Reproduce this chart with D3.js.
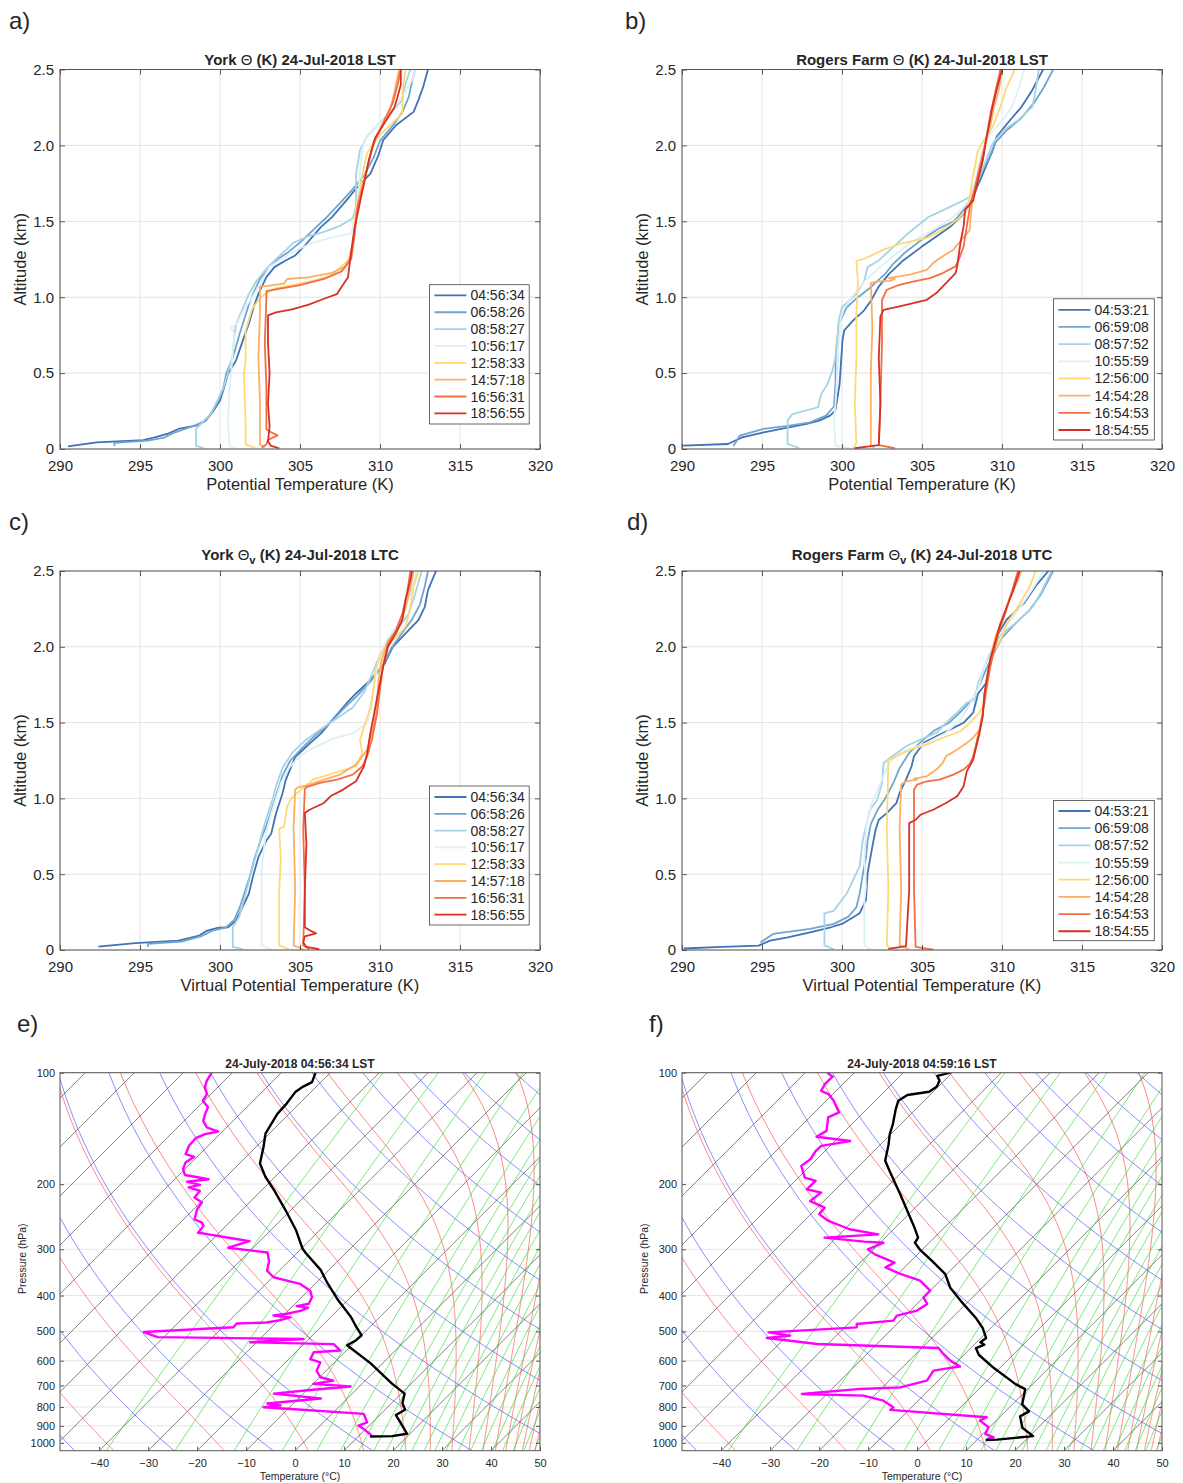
<!DOCTYPE html>
<html><head><meta charset="utf-8"><title>Soundings 24 July 2018</title>
<script src="https://cdn.jsdelivr.net/npm/d3@7/dist/d3.min.js"></script>
<style>
html,body{margin:0;padding:0;background:#fff;}
svg{display:block;}
text{font-family:"Liberation Sans",Arial,Helvetica,sans-serif;fill:#262626;}
</style></head><body>
<svg id="chart" width="1183" height="1483"></svg>
<script>
// ================= DATA =================
const yorkTimes   = ["04:56:34","06:58:26","08:58:27","10:56:17","12:58:33","14:57:18","16:56:31","18:56:55"];
const rogersTimes = ["04:53:21","06:59:08","08:57:52","10:55:59","12:56:00","14:54:28","16:54:53","18:54:55"];
const seriesColors = ["#4072b5","#6fa6d0","#a5d3e6","#dcf0f6","#fed976","#fdae61","#f46d43","#d73027"];
const thetaTicks = [290,295,300,305,310,315,320];
const altTicks = [0,0.5,1.0,1.5,2.0,2.5];
const pressureTicks = [100,200,300,400,500,600,700,800,900,1000];
const tempTicks = [-40,-30,-20,-10,0,10,20,30,40,50];

// skew-T reference line families
const isothermValues = [-150,-140,-130,-120,-110,-100,-90,-80,-70,-60,-50,-40,-30,-20,-10,0,10,20,30,40,50];
const dryAdiabatTheta = [185,205,225,245,265,285,305,325,345,365,385,405,425,445,465,485,505,525,545];
const moistStartT = [-37,-14.5,2.7,14,22.6,27.6,32,35.5,38.4,40.9,43,44.8,46.4,47.8,49,50.2];
const mixingRatios = [0.13,0.5,1.4,3,5,7,9,11,13,15.5,18,21,24,27.5,32,37,42,48,54,61,69,78,88];

// (a) York potential temperature [theta K, altitude km]
const yorkTheta = [
 [[290.5,0.018],[292.3,0.044],[295.2,0.059],[295.8,0.073],[296.7,0.099],[297.4,0.132],[298.5,0.154],[299.1,0.187],[299.6,0.253],[300.0,0.319],[300.2,0.385],[300.5,0.495],[301.0,0.583],[301.5,0.737],[301.8,0.825],[302.1,0.934],[302.4,1.022],[302.9,1.132],[303.4,1.198],[304.1,1.242],[304.7,1.275],[305.4,1.352],[306.3,1.462],[307.0,1.528],[307.9,1.638],[308.5,1.715],[309.4,1.814],[309.9,1.935],[310.2,2.034],[311.0,2.133],[312.1,2.221],[312.4,2.298],[312.7,2.386],[313.0,2.5]],
 [[293.4,0.02],[293.4,0.04],[295.5,0.055],[296.5,0.075],[297.2,0.11],[298.3,0.15],[299.0,0.18],[299.5,0.24],[299.9,0.32],[300.2,0.40],[300.4,0.50],[300.8,0.60],[301.2,0.75],[301.5,0.85],[301.8,0.95],[302.1,1.03],[302.5,1.12],[303.0,1.19],[303.6,1.25],[304.3,1.30],[305.0,1.36],[305.8,1.44],[306.6,1.52],[307.5,1.62],[308.2,1.70],[309.0,1.80],[309.6,1.92],[310.0,2.03],[310.8,2.13],[311.4,2.22],[311.8,2.32],[312.0,2.42],[312.2,2.5]],
 [[299.0,0.005],[298.5,0.02],[298.5,0.13],[298.7,0.154],[299.4,0.23],[299.8,0.31],[300.2,0.40],[300.5,0.50],[300.8,0.62],[300.9,0.75],[301.0,0.82],[301.4,0.92],[301.8,1.02],[302.3,1.11],[303.0,1.20],[303.8,1.28],[304.6,1.36],[305.5,1.40],[306.5,1.43],[307.5,1.47],[308.3,1.52],[308.5,1.60],[308.5,1.81],[308.75,1.97],[309.2,2.06],[309.9,2.14],[310.8,2.23],[311.4,2.30],[311.6,2.41],[311.9,2.5]],
 [[301.0,0.005],[300.6,0.02],[300.5,0.165],[300.6,0.41],[300.7,0.50],[300.8,0.65],[300.9,0.76],[300.7,0.80],[301.1,0.83],[301.5,0.92],[301.9,0.98],[302.5,1.09],[303.1,1.20],[304.4,1.29],[305.8,1.36],[307.3,1.40],[308.2,1.42],[308.5,1.55],[308.7,1.75],[308.8,1.90],[309.0,2.03],[309.9,2.14],[310.5,2.19],[311.4,2.32],[312.0,2.43],[312.2,2.5]],
 [[302.2,0.007],[301.6,0.03],[301.6,0.165],[301.5,0.495],[301.6,0.583],[301.6,0.78],[301.8,0.85],[302.0,0.92],[302.4,0.98],[302.8,1.02],[303.5,1.06],[305.0,1.09],[306.3,1.12],[307.0,1.15],[308.0,1.24],[308.3,1.35],[308.4,1.42],[308.5,1.59],[308.75,1.70],[308.9,1.81],[309.2,1.95],[309.9,2.06],[310.5,2.12],[311.4,2.21],[311.4,2.34],[311.5,2.43],[311.6,2.5]],
 [[302.8,0.01],[302.5,0.03],[302.5,0.3],[302.4,0.6],[302.5,0.9],[302.5,1.07],[303.0,1.075],[304.0,1.09],[304.2,1.12],[305.5,1.13],[307.0,1.16],[307.8,1.20],[308.2,1.28],[308.4,1.40],[308.5,1.55],[308.8,1.70],[309.2,1.85],[309.5,1.98],[310.0,2.10],[310.6,2.22],[310.9,2.35],[311.2,2.5]],
 [[302.6,0.01],[302.9,0.03],[303.0,0.06],[303.6,0.09],[303.2,0.11],[302.9,0.13],[302.9,0.4],[302.8,0.7],[302.9,1.0],[302.9,1.04],[303.4,1.05],[305.0,1.08],[306.5,1.12],[307.6,1.17],[308.2,1.25],[308.4,1.40],[308.6,1.60],[309.0,1.75],[309.3,1.90],[309.6,2.02],[310.2,2.15],[310.8,2.28],[311.1,2.40],[311.3,2.5]],
 [[303.7,0.005],[303.2,0.02],[303.0,0.05],[303.1,0.15],[303.0,0.3],[303.1,0.5],[303.0,0.7],[303.0,0.88],[303.5,0.90],[304.5,0.92],[305.5,0.95],[306.5,0.99],[307.3,1.02],[307.8,1.10],[308.0,1.13],[308.2,1.30],[308.4,1.45],[308.7,1.60],[309.0,1.75],[309.3,1.90],[309.7,2.05],[310.3,2.15],[310.9,2.25],[311.1,2.32],[311.3,2.40],[311.3,2.5]]
];

// (b) Rogers Farm potential temperature
const rogersTheta = [
 [[290.07,0.022],[292.87,0.033],[293.76,0.077],[295.1,0.11],[296.67,0.143],[297.79,0.165],[298.57,0.187],[299.25,0.22],[299.58,0.253],[299.69,0.319],[299.85,0.429],[299.92,0.539],[300.03,0.715],[300.14,0.781],[300.7,0.847],[301.37,0.912],[301.82,0.978],[302.27,1.066],[302.94,1.154],[303.83,1.242],[304.95,1.33],[305.85,1.396],[306.74,1.462],[307.64,1.55],[308.09,1.638],[308.54,1.748],[308.98,1.858],[309.43,1.968],[309.66,2.056],[310.33,2.144],[311.22,2.254],[311.89,2.364],[312.57,2.5]],
 [[293.2,0.02],[293.4,0.05],[293.6,0.088],[295.1,0.132],[296.7,0.154],[298.0,0.175],[299.0,0.22],[299.5,0.28],[299.6,0.45],[299.6,0.605],[299.8,0.825],[300.3,0.934],[301.0,1.0],[301.8,1.066],[302.7,1.154],[303.2,1.22],[304.0,1.30],[305.0,1.38],[306.0,1.45],[307.0,1.50],[307.8,1.60],[308.1,1.70],[308.6,1.80],[309.2,1.92],[309.6,2.02],[310.3,2.10],[311.2,2.18],[312.0,2.28],[312.6,2.38],[313.2,2.5]],
 [[297.3,0.007],[296.6,0.033],[296.6,0.187],[296.9,0.23],[298.5,0.275],[298.7,0.363],[299.1,0.429],[299.4,0.517],[299.6,0.605],[299.7,0.715],[299.8,0.847],[300.0,0.934],[300.9,1.022],[301.4,1.11],[301.6,1.198],[302.3,1.242],[303.2,1.33],[304.1,1.418],[305.4,1.528],[306.3,1.572],[307.6,1.638],[308.3,1.682],[308.5,1.77],[309.0,1.90],[309.4,2.01],[310.1,2.10],[311.0,2.166],[311.9,2.254],[312.1,2.364],[312.3,2.5]],
 [[300.5,0.005],[299.6,0.02],[299.5,0.19],[299.6,0.3],[299.7,0.5],[299.8,0.7],[299.9,0.85],[300.1,0.92],[300.6,1.0],[301.5,1.115],[302.4,1.2],[303.3,1.28],[304.3,1.36],[305.3,1.42],[306.3,1.48],[307.2,1.55],[307.8,1.62],[308.2,1.72],[308.5,1.85],[308.8,1.98],[309.3,2.08],[310.0,2.16],[310.6,2.25],[311.0,2.36],[311.4,2.5]],
 [[300.7,0.005],[300.9,0.04],[300.8,0.3],[300.9,0.6],[300.9,0.9],[301.0,1.1],[300.9,1.24],[301.5,1.258],[302.6,1.313],[303.8,1.357],[305.3,1.39],[306.3,1.445],[307.2,1.51],[307.8,1.577],[308.0,1.66],[308.1,1.748],[308.3,1.858],[308.5,1.968],[309.0,2.056],[309.4,2.12],[309.9,2.254],[310.3,2.386],[310.8,2.5]],
 [[302.0,0.005],[301.8,0.03],[301.8,0.5],[301.9,0.8],[301.8,1.093],[302.2,1.104],[303.0,1.108],[303.3,1.12],[302.9,1.125],[304.25,1.148],[305.3,1.18],[305.7,1.225],[306.1,1.257],[306.96,1.313],[307.6,1.396],[307.97,1.44],[308.1,1.594],[308.3,1.70],[308.5,1.814],[308.76,1.924],[309.0,2.034],[309.3,2.144],[309.5,2.254],[309.8,2.364],[310.0,2.5]],
 [[303.3,0.005],[302.3,0.025],[302.4,0.3],[302.5,0.7],[302.5,0.983],[302.8,1.049],[303.6,1.082],[304.5,1.104],[305.5,1.126],[306.3,1.159],[307.1,1.203],[307.3,1.247],[307.6,1.335],[307.8,1.467],[308.0,1.60],[308.3,1.72],[308.6,1.85],[308.9,1.98],[309.1,2.10],[309.3,2.22],[309.6,2.36],[309.9,2.5]],
 [[300.8,0.005],[302.3,0.025],[302.4,0.3],[302.3,0.6],[302.4,0.873],[302.6,0.917],[303.6,0.94],[305.3,0.983],[305.9,1.027],[306.5,1.093],[307.1,1.159],[307.2,1.203],[307.4,1.357],[307.6,1.467],[307.7,1.577],[308.2,1.638],[308.5,1.77],[308.8,1.90],[309.0,2.03],[309.2,2.14],[309.4,2.25],[309.65,2.36],[310.0,2.5]]
];

// (c) York virtual potential temperature
const yorkThetaV = [
 [[292.4,0.022],[294.7,0.045],[297.4,0.062],[298.7,0.095],[299.2,0.128],[299.8,0.145],[300.5,0.15],[301.0,0.194],[301.4,0.282],[301.8,0.37],[302.1,0.502],[302.4,0.612],[302.9,0.722],[303.2,0.767],[303.5,0.90],[303.9,1.031],[304.1,1.119],[304.7,1.273],[305.6,1.361],[306.3,1.427],[307.0,1.515],[307.9,1.626],[308.5,1.692],[309.4,1.78],[310.3,1.89],[310.8,2.0],[311.6,2.088],[312.4,2.176],[312.8,2.264],[313.0,2.374],[313.5,2.5]],
 [[295.5,0.02],[295.5,0.04],[297.6,0.055],[298.8,0.09],[299.6,0.13],[300.4,0.15],[300.9,0.2],[301.3,0.3],[301.6,0.4],[301.9,0.5],[302.2,0.62],[302.6,0.74],[303.0,0.85],[303.3,0.95],[303.6,1.05],[303.9,1.15],[304.4,1.25],[305.2,1.34],[306.0,1.42],[306.9,1.50],[307.8,1.60],[308.6,1.68],[309.4,1.77],[310.2,1.88],[310.7,1.99],[311.3,2.08],[312.0,2.18],[312.5,2.28],[312.8,2.40],[313.0,2.5]],
 [[301.4,0.005],[300.8,0.02],[300.8,0.15],[301.2,0.22],[301.5,0.33],[301.8,0.45],[302.1,0.57],[302.4,0.68],[302.7,0.80],[303.0,0.90],[303.3,1.0],[303.5,1.08],[303.9,1.2],[304.5,1.30],[305.3,1.38],[306.2,1.45],[307.2,1.52],[308.3,1.60],[309.0,1.70],[309.5,1.82],[310.0,1.95],[310.6,2.05],[311.2,2.13],[311.8,2.22],[312.2,2.35],[312.6,2.5]],
 [[303.2,0.005],[302.6,0.03],[302.6,0.3],[302.6,0.5],[302.7,0.64],[302.9,0.78],[303.2,0.9],[303.5,1.0],[303.8,1.1],[304.3,1.2],[305.0,1.28],[305.6,1.32],[306.9,1.388],[308.3,1.43],[309.2,1.50],[309.5,1.62],[309.7,1.78],[309.9,1.92],[310.4,2.04],[311.0,2.13],[311.5,2.22],[311.9,2.35],[312.3,2.5]],
 [[304.3,0.005],[303.7,0.03],[303.7,0.4],[303.8,0.6],[303.7,0.8],[304.0,0.815],[304.2,0.947],[304.4,0.99],[304.7,1.025],[305.8,1.124],[307.5,1.18],[308.5,1.212],[308.9,1.30],[308.75,1.383],[309.0,1.471],[309.4,1.60],[309.6,1.736],[309.75,1.868],[310.2,1.978],[310.8,2.044],[311.6,2.132],[311.9,2.264],[312.1,2.40],[312.4,2.5]],
 [[305.2,0.005],[304.6,0.03],[304.7,0.4],[304.6,0.8],[304.7,1.058],[304.9,1.075],[305.4,1.084],[306.5,1.124],[307.5,1.157],[308.5,1.223],[309.2,1.32],[309.6,1.477],[309.8,1.60],[309.9,1.78],[310.1,1.91],[310.5,2.04],[311.2,2.13],[311.6,2.26],[311.9,2.39],[312.1,2.5]],
 [[305.6,0.005],[305.2,0.03],[305.3,0.4],[305.2,0.8],[305.3,1.06],[305.4,1.075],[306.25,1.102],[307.3,1.124],[308.3,1.157],[308.9,1.212],[309.2,1.278],[309.5,1.39],[309.8,1.55],[310.0,1.72],[310.2,1.88],[310.5,2.02],[311.0,2.11],[311.4,2.22],[311.7,2.36],[311.9,2.5]],
 [[306.2,0.005],[305.4,0.02],[305.2,0.05],[305.3,0.09],[306.0,0.11],[305.6,0.13],[305.3,0.15],[305.3,0.4],[305.4,0.7],[305.3,0.903],[305.6,0.925],[306.5,0.97],[306.9,1.014],[307.7,1.058],[308.5,1.113],[309.0,1.212],[309.2,1.30],[309.4,1.433],[309.6,1.54],[309.9,1.71],[310.2,1.87],[310.5,2.0],[311.0,2.09],[311.4,2.18],[311.6,2.31],[311.9,2.44],[312.0,2.5]]
];

// (d) Rogers Farm virtual potential temperature
const rogersThetaV = [
 [[290.1,0.01],[292.5,0.02],[294.8,0.029],[295.5,0.062],[296.6,0.084],[298.0,0.117],[299.3,0.15],[300.0,0.172],[300.7,0.216],[301.1,0.242],[301.5,0.33],[301.6,0.507],[301.9,0.683],[302.1,0.793],[302.3,0.859],[302.8,0.903],[303.4,0.969],[303.6,1.036],[304.0,1.124],[304.35,1.212],[304.5,1.278],[305.1,1.366],[305.9,1.41],[306.75,1.454],[307.6,1.499],[308.2,1.565],[308.5,1.69],[309.0,1.76],[309.2,1.868],[309.4,1.978],[309.9,2.11],[310.3,2.18],[311.4,2.29],[312.1,2.40],[312.9,2.5]],
 [[294.9,0.05],[295.7,0.106],[298.0,0.139],[299.5,0.172],[300.4,0.22],[300.9,0.282],[301.1,0.37],[301.3,0.50],[301.5,0.61],[301.6,0.72],[301.8,0.83],[302.2,0.92],[302.7,1.0],[303.2,1.1],[303.6,1.2],[304.2,1.3],[305.0,1.38],[305.8,1.45],[306.7,1.5],[307.5,1.58],[308.2,1.66],[308.6,1.75],[309.0,1.85],[309.5,1.96],[310.0,2.06],[310.8,2.15],[311.7,2.24],[312.4,2.34],[313.2,2.5]],
 [[299.5,0.005],[298.9,0.03],[298.9,0.242],[299.5,0.26],[300.3,0.374],[300.7,0.462],[301.1,0.55],[301.3,0.727],[301.5,0.815],[301.75,0.925],[302.2,0.99],[302.5,1.1],[302.6,1.234],[303.0,1.267],[304.0,1.344],[304.9,1.388],[305.9,1.433],[306.5,1.499],[307.2,1.565],[307.8,1.631],[308.3,1.648],[308.5,1.758],[308.9,1.87],[309.4,1.98],[309.9,2.08],[310.8,2.15],[311.9,2.26],[312.5,2.37],[313.1,2.5]],
 [[301.8,0.005],[301.4,0.03],[301.4,0.33],[301.5,0.42],[301.4,0.6],[301.5,0.8],[301.8,0.95],[302.2,1.05],[302.6,1.15],[303.0,1.24],[303.6,1.30],[305.3,1.366],[306.5,1.433],[307.4,1.52],[308.0,1.62],[308.5,1.72],[308.8,1.84],[309.2,1.96],[309.7,2.06],[310.4,2.16],[311.2,2.27],[311.9,2.38],[312.6,2.5]],
 [[303.1,0.005],[302.8,0.03],[302.9,0.4],[302.8,0.8],[302.9,1.256],[303.2,1.267],[304.25,1.322],[305.3,1.355],[306.3,1.40],[307.4,1.443],[308.0,1.50],[308.6,1.565],[308.9,1.626],[309.0,1.714],[309.2,1.846],[309.4,1.956],[309.9,2.044],[310.3,2.154],[311.0,2.264],[311.7,2.39],[312.1,2.5]],
 [[304.2,0.005],[303.6,0.03],[303.7,0.4],[303.6,0.8],[303.7,1.091],[304.0,1.113],[304.7,1.124],[304.5,1.13],[305.3,1.146],[305.9,1.19],[306.3,1.234],[306.5,1.278],[307.2,1.322],[307.8,1.366],[308.2,1.40],[308.6,1.454],[308.8,1.565],[308.9,1.69],[309.2,1.82],[309.4,1.98],[309.6,2.07],[310.1,2.20],[310.5,2.33],[311.0,2.44],[311.2,2.5]],
 [[305.7,0.003],[304.6,0.02],[304.5,0.4],[304.5,0.8],[304.5,1.058],[304.7,1.091],[305.3,1.113],[306.1,1.124],[306.96,1.157],[307.6,1.19],[308.0,1.23],[308.2,1.278],[308.4,1.366],[308.6,1.454],[308.8,1.565],[309.0,1.70],[309.2,1.84],[309.5,1.97],[309.8,2.1],[310.2,2.22],[310.6,2.36],[311.0,2.5]],
 [[302.9,0.008],[304.0,0.025],[304.2,0.4],[304.2,0.837],[304.6,0.859],[304.9,0.892],[305.7,0.925],[306.5,0.97],[307.2,1.014],[307.6,1.08],[307.8,1.179],[308.2,1.256],[308.6,1.433],[308.8,1.543],[308.9,1.69],[309.1,1.82],[309.3,1.93],[309.6,2.04],[309.9,2.154],[310.3,2.264],[310.7,2.37],[311.1,2.5]]
];

// (e) York sounding 04:56:34 [pressure hPa, temperature C]
const yorkSoundingT = [[100,-73],[106,-71.8],[109,-72.7],[112.5,-73.2],[121,-72.6],[129,-72.4],[138.5,-71.5],[146,-70.8],[158.5,-68.5],[176,-65.8],[191,-62],[208,-57.4],[235,-51.1],[266,-44.9],[299,-39.7],[308,-38.0],[341,-31.7],[371,-27.5],[412,-21.9],[457,-15.9],[486,-12.8],[512,-10.0],[528,-10.1],[545,-10.9],[610,-2.4],[692,6.1],[736,10.7],[781,12.2],[814,14.1],[841,13.3],[887,16.1],[945,19.4],[959,16.8],[961,12.4]];
const yorkSoundingTd = [[100,-94.2],[105,-93.6],[109.6,-92.6],[114.2,-90.8],[119,-90.3],[124,-87.9],[129.4,-87.1],[134.9,-86.1],[140.6,-84.0],[144.2,-80.9],[146.6,-83.0],[150.3,-84.1],[157.6,-83.9],[166,-82.9],[168.8,-80.6],[174.9,-81.2],[182,-80.4],[188.9,-78.8],[194,-73.1],[197,-77.0],[201,-73.7],[204,-75.5],[208.6,-72.5],[217.5,-72.2],[224.2,-69.7],[233.8,-69.3],[248.8,-67.8],[254,-65.6],[259.3,-64.6],[270.6,-64.3],[273,-62.2],[280,-56.3],[285,-52.1],[297,-55.1],[302,-50.2],[306,-46.1],[323,-44.0],[342.6,-42.5],[357,-39.8],[364.6,-36.4],[372,-33.0],[388,-29.6],[404,-27.9],[421,-27.2],[427,-29.2],[432,-26.5],[440,-27.5],[448,-29.6],[453,-32.0],[458,-28.2],[466,-29.7],[473,-32.0],[476,-37.9],[487,-37.8],[502,-55.1],[518,-51.3],[524,-21.1],[535,-31.3],[541,-13.9],[563,-11.2],[569,-16.3],[594,-15.6],[606,-12.9],[639,-11.9],[665,-9.8],[679,-6.5],[693,-9.9],[704,-1.8],[721,-9.8],[736,-16.0],[759,-5.4],[783,-15.3],[792,-12.2],[801,-15.3],[809,-10.2],[835,6.5],[880,8.9],[898,7.8],[925,10.2],[952,12.3],[961,12.6]];

// (f) Rogers Farm sounding 04:59:16
const rogersSoundingT = [[100,-70.4],[102,-72.4],[105,-71.0],[109,-70.3],[112.6,-70.8],[114.9,-74.6],[119,-75.3],[125.4,-74.1],[137.8,-71.6],[146.6,-70.2],[156,-68.4],[173,-65.7],[184,-62.8],[198,-59.3],[213,-55.8],[236,-51.0],[262,-46.1],[279,-43.3],[288,-42.9],[300,-40.6],[323,-35.6],[350,-30.3],[381,-26.5],[414,-21.6],[459,-15.2],[489,-11.7],[521,-8.9],[535,-9.2],[543,-7.9],[555,-8.9],[578,-7.0],[627,-1.3],[694,6.5],[716,9.5],[787,12.0],[822,14.8],[848,14.0],[910,16.8],[959,20.7],[980,14.1],[982,11.8]];
const rogersSoundingTd = [[100,-95.5],[102.5,-93.6],[107,-93.7],[111.9,-93.1],[114.2,-90.9],[119,-88.5],[128,-85.0],[132.1,-86.2],[143.6,-83.8],[149,-84.6],[153,-76.9],[157.6,-81.8],[162.6,-81.9],[171.3,-81.3],[178.5,-81.8],[192,-78.7],[196,-75.8],[206.5,-75.9],[210.8,-72.3],[222.2,-72.8],[231.5,-68.5],[241,-68.3],[251.5,-65.0],[264.8,-59.0],[273.3,-52.1],[279,-62.4],[286,-53.5],[288,-49.3],[300,-51.2],[309.6,-48.7],[326,-43.0],[335.6,-43.9],[349.7,-39.5],[364.6,-34.1],[388,-30.0],[404.5,-30.0],[421.4,-27.9],[439.3,-28.6],[453.2,-31.7],[467.6,-31.4],[477.3,-38.2],[487.5,-37.5],[502.8,-54.5],[513.3,-49.4],[520.7,-53.7],[540.5,-42.2],[554.1,-16.6],[575.2,-14.4],[599.6,-11.6],[622.4,-8.4],[627.4,-10.1],[638,-13.0],[679,-12.3],[708,-16.4],[715,-24.2],[737.6,-35.1],[745.4,-22.2],[769,-17.1],[801.7,-13.7],[814.7,-13.8],[853,7.4],[870.8,6.7],[907.8,9.8],[946,10.5],[966,12.9],[976,11.9]];

// ================= DRAWING =================
const svg = d3.select("#chart");
let clipCount = 0;
function addClip(x, y, w, h) {
  const id = "clip" + (clipCount++);
  svg.append("clipPath").attr("id", id).append("rect").attr("x", x).attr("y", y).attr("width", w).attr("height", h);
  return "url(#" + id + ")";
}
function styleAxis(sel, fs) {
  sel.select(".domain").remove();
  sel.selectAll(".tick line").attr("stroke", "#333").attr("stroke-width", 0.8);
  sel.selectAll(".tick text").attr("font-size", fs).attr("fill", "#262626").attr("font-family", "Liberation Sans, Arial, sans-serif");
}
function drawTitle(x, y, parts, fs) {
  const t = svg.append("text").attr("x", x).attr("y", y).attr("text-anchor", "middle")
    .attr("font-weight", "bold").attr("font-size", fs).attr("fill", "#111");
  let pendingUp = 0;
  parts.forEach(p => {
    let ts;
    if (p.sub) {
      ts = t.append("tspan").attr("dy", 4).attr("font-size", fs * 0.75).text(p.t);
      pendingUp = -4;
    } else {
      ts = t.append("tspan").attr("dy", pendingUp).text(p.t);
      pendingUp = 0;
    }
    if (p.light) ts.attr("font-weight", "normal");
  });
}
function panelLetter(x, y, s) {
  svg.append("text").attr("x", x).attr("y", y).attr("font-size", 24)
    .attr("font-family", "Liberation Serif, Times New Roman, serif").attr("fill", "#000").text(s);
}

function thetaPanel(o) {
  const g = svg.append("g");
  const x = d3.scaleLinear().domain([290, 320]).range([o.x0, o.x1]);
  const y = d3.scaleLinear().domain([0, 2.5]).range([o.y1, o.y0]);
  g.append("rect").attr("x", o.x0).attr("y", o.y0).attr("width", o.x1 - o.x0).attr("height", o.y1 - o.y0).attr("fill", "#fff");
  g.append("g").selectAll("line").data(thetaTicks).join("line")
    .attr("x1", d => x(d)).attr("x2", d => x(d)).attr("y1", o.y0).attr("y2", o.y1)
    .attr("stroke", "#e3e3e3").attr("stroke-width", 1);
  g.append("g").selectAll("line").data(altTicks).join("line")
    .attr("y1", d => y(d)).attr("y2", d => y(d)).attr("x1", o.x0).attr("x2", o.x1)
    .attr("stroke", "#e3e3e3").attr("stroke-width", 1);
  const clip = addClip(o.x0, o.y0, o.x1 - o.x0, o.y1 - o.y0);
  const line = d3.line().x(d => x(d[0])).y(d => y(d[1]));
  const pg = g.append("g").attr("clip-path", clip);
  o.series.forEach((s, i) => {
    pg.append("path").attr("d", line(s)).attr("fill", "none").attr("stroke", seriesColors[i])
      .attr("stroke-width", 1.8).attr("stroke-linejoin", "round");
  });
  const fmtY = d => d === 0 ? "0" : d.toFixed(1);
  styleAxis(g.append("g").attr("transform", `translate(0,${o.y1})`)
    .call(d3.axisBottom(x).tickValues(thetaTicks).tickSize(-5).tickPadding(11).tickFormat(d3.format("d"))), 15);
  styleAxis(g.append("g").attr("transform", `translate(${o.x0},0)`)
    .call(d3.axisLeft(y).tickValues(altTicks).tickSize(-5).tickPadding(6).tickFormat(fmtY)), 15);
  styleAxis(g.append("g").attr("transform", `translate(0,${o.y0})`)
    .call(d3.axisTop(x).tickValues(thetaTicks).tickSize(-5).tickFormat("")), 15);
  styleAxis(g.append("g").attr("transform", `translate(${o.x1},0)`)
    .call(d3.axisRight(y).tickValues(altTicks).tickSize(-5).tickFormat("")), 15);
  g.append("rect").attr("x", o.x0).attr("y", o.y0).attr("width", o.x1 - o.x0).attr("height", o.y1 - o.y0)
    .attr("fill", "none").attr("stroke", "#555").attr("stroke-width", 1);
  g.append("text").attr("x", (o.x0 + o.x1) / 2).attr("y", o.y1 + 41).attr("text-anchor", "middle")
    .attr("font-size", 16.5).text(o.xlabel);
  g.append("text").attr("transform", `translate(${o.x0 - 34},${(o.y0 + o.y1) / 2}) rotate(-90)`)
    .attr("text-anchor", "middle").attr("font-size", 16.5).text("Altitude (km)");
  const L = o.legend;
  g.append("rect").attr("x", L.x).attr("y", L.y).attr("width", L.w).attr("height", L.h)
    .attr("fill", "#fff").attr("stroke", "#444").attr("stroke-width", 0.8);
  o.labels.forEach((lab, i) => {
    const cy = L.row0 + i * L.dy;
    g.append("line").attr("x1", L.x + 5).attr("x2", L.x + 37).attr("y1", cy).attr("y2", cy)
      .attr("stroke", seriesColors[i]).attr("stroke-width", 1.8);
    g.append("text").attr("x", L.x + 41).attr("y", cy + 5).attr("font-size", 14).text(lab);
  });
  drawTitle((o.x0 + o.x1) / 2, o.titleY, o.title, 15);
}

// thermodynamics for skew-T reference lines
function satVap(Tc) { return 6.112 * Math.exp(17.67 * Tc / (Tc + 243.5)); }
function dewFromMixing(w, p) { const e = w * p / (622 + w); const a = Math.log(e / 6.112); return 243.5 * a / (17.67 - a); }
function moistLapse(TK, p) {
  const es = satVap(TK - 273.15), rs = 0.622 * es / (p - es);
  const Lv = 2.501e6, Rd = 287.04, cp = 1005.7;
  return (Rd * TK + Lv * rs) / (p * (cp + Lv * Lv * rs * 0.622 / (Rd * TK * TK)));
}
function moistProfile(T0c) {
  const pts = []; let T = T0c + 273.15, p = 1050; const dp = -2;
  while (p >= 100) {
    pts.push([p, T - 273.15]);
    if (satVap(T - 273.15) > 0.3 * p) break;
    const k1 = moistLapse(T, p);
    const k2 = moistLapse(T + k1 * dp / 2, p + dp / 2);
    T += k2 * dp; p += dp;
  }
  return pts;
}
const pLevels = d3.range(0, 241).map(i => 1050 * Math.pow(100 / 1050, i / 240));

function skewPanel(o) {
  const g = svg.append("g");
  const x = d3.scaleLinear().domain([-48, 50]).range([o.x0, o.x1]);
  const y = d3.scaleLog().domain([1050, 100]).range([o.y1, o.y0]);
  const X = (T, p) => x(T) + (o.y1 - y(p));
  const path = d3.line().x(d => X(d[1], d[0])).y(d => y(d[0]));
  g.append("rect").attr("x", o.x0).attr("y", o.y0).attr("width", o.x1 - o.x0).attr("height", o.y1 - o.y0).attr("fill", "#fff");
  g.append("g").selectAll("line").data(pressureTicks).join("line")
    .attr("x1", o.x0).attr("x2", o.x1).attr("y1", d => y(d)).attr("y2", d => y(d))
    .attr("stroke", "#e6e6e6").attr("stroke-width", 1);
  const bg = g.append("g").attr("clip-path", addClip(o.x0, o.y0, o.x1 - o.x0, o.y1 - o.y0));
  const thin = (d, c) => bg.append("path").attr("d", d).attr("fill", "none").attr("stroke", c).attr("stroke-width", 0.75);
  isothermValues.forEach(T => thin(path([[1050, T], [100, T]]), "rgba(40,40,40,0.75)"));
  dryAdiabatTheta.forEach(th => thin(path(pLevels.map(p => [p, th * Math.pow(p / 1000, 0.2857) - 273.15])), "rgba(60,60,255,0.8)"));
  moistStartT.forEach(T0 => thin(path(moistProfile(T0)), "rgba(255,40,40,0.75)"));
  mixingRatios.forEach(w => thin(path(pLevels.map(p => [p, dewFromMixing(w, p)])), "rgba(40,220,40,0.85)"));
  bg.append("path").attr("d", path(o.td)).attr("fill", "none").attr("stroke", "#ff00ff").attr("stroke-width", 2.4).attr("stroke-linejoin", "round");
  bg.append("path").attr("d", path(o.t)).attr("fill", "none").attr("stroke", "#000").attr("stroke-width", 2.4).attr("stroke-linejoin", "round");
  styleAxis(g.append("g").attr("transform", `translate(0,${o.y1})`)
    .call(d3.axisBottom(x).tickValues(tempTicks).tickSize(-4).tickPadding(9).tickFormat(d3.format("d"))), 11);
  styleAxis(g.append("g").attr("transform", `translate(${o.x0},0)`)
    .call(d3.axisLeft(y).tickValues(pressureTicks).tickSize(-4).tickPadding(5).tickFormat(d3.format("d"))), 11);
  styleAxis(g.append("g").attr("transform", `translate(${o.x1},0)`)
    .call(d3.axisRight(y).tickValues(pressureTicks).tickSize(-4).tickFormat("")), 11);
  g.append("rect").attr("x", o.x0).attr("y", o.y0).attr("width", o.x1 - o.x0).attr("height", o.y1 - o.y0)
    .attr("fill", "none").attr("stroke", "#555").attr("stroke-width", 1);
  g.append("text").attr("x", (o.x0 + o.x1) / 2).attr("y", o.y1 + 29.5).attr("text-anchor", "middle")
    .attr("font-size", 10.5).text("Temperature (°C)");
  g.append("text").attr("transform", `translate(${o.x0 - 34.5},${(o.y0 + o.y1) / 2 - 3}) rotate(-90)`)
    .attr("text-anchor", "middle").attr("font-size", 10.5).text("Pressure (hPa)");
  drawTitle((o.x0 + o.x1) / 2, o.y0 - 4.5, [{t: o.title}], 12);
}

thetaPanel({x0: 60, x1: 540, y0: 69.5, y1: 449, series: yorkTheta, labels: yorkTimes, titleY: 65,
  title: [{t: "York "}, {t: "Θ", light: true}, {t: " (K) 24-Jul-2018 LST"}], xlabel: "Potential Temperature (K)",
  legend: {x: 429.4, y: 284.7, w: 99.8, h: 139.3, row0: 295.4, dy: 16.85}});
thetaPanel({x0: 682, x1: 1162, y0: 69.5, y1: 449, series: rogersTheta, labels: rogersTimes, titleY: 65,
  title: [{t: "Rogers Farm "}, {t: "Θ", light: true}, {t: " (K) 24-Jul-2018 LST"}], xlabel: "Potential Temperature (K)",
  legend: {x: 1053.4, y: 298.8, w: 100.9, h: 141.2, row0: 309.8, dy: 17.17}});
thetaPanel({x0: 60, x1: 540, y0: 571, y1: 950, series: yorkThetaV, labels: yorkTimes, titleY: 560,
  title: [{t: "York "}, {t: "Θ", light: true}, {t: "v", sub: true}, {t: " (K) 24-Jul-2018 LTC"}], xlabel: "Virtual Potential Temperature (K)",
  legend: {x: 429.4, y: 786, w: 99.8, h: 139, row0: 797, dy: 16.8}});
thetaPanel({x0: 682, x1: 1162, y0: 571, y1: 950, series: rogersThetaV, labels: rogersTimes, titleY: 560,
  title: [{t: "Rogers Farm "}, {t: "Θ", light: true}, {t: "v", sub: true}, {t: " (K) 24-Jul-2018 UTC"}], xlabel: "Virtual Potential Temperature (K)",
  legend: {x: 1053.4, y: 800.4, w: 100.9, h: 140.3, row0: 811, dy: 17.18}});
skewPanel({x0: 60, x1: 540, y0: 1072.7, y1: 1450.7, t: yorkSoundingT, td: yorkSoundingTd, title: "24-July-2018 04:56:34 LST"});
skewPanel({x0: 682, x1: 1162, y0: 1072.7, y1: 1450.7, t: rogersSoundingT, td: rogersSoundingTd, title: "24-July-2018 04:59:16 LST"});

panelLetter(9, 29, "a)");
panelLetter(625, 29, "b)");
panelLetter(9, 530, "c)");
panelLetter(627, 530, "d)");
panelLetter(17, 1032, "e)");
panelLetter(649, 1032, "f)");
</script>
</body></html>
